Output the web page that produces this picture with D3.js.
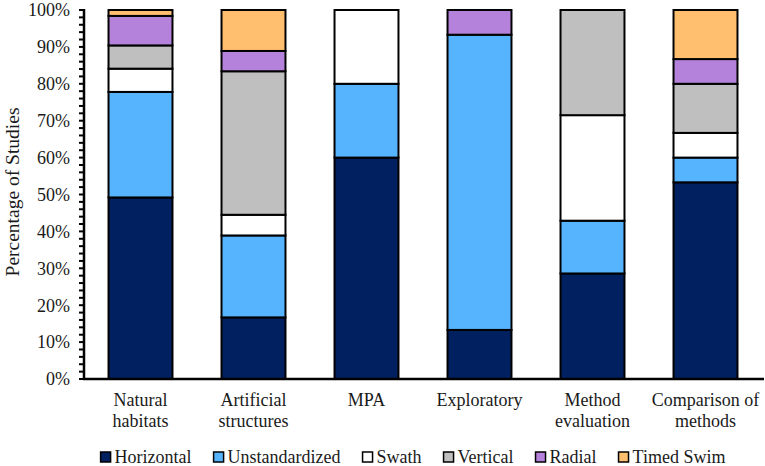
<!DOCTYPE html>
<html><head><meta charset="utf-8">
<script src="https://cdn.jsdelivr.net/npm/d3@7"></script>
<style>body{margin:0;background:#fff}</style>
</head><body><svg id="c" width="765" height="466"></svg>
<script>
const categories = [["Natural","habitats"],["Artificial","structures"],["MPA"],["Exploratory"],["Method","evaluation"],["Comparison of","methods"]];
const seriesNames = ["Horizontal","Unstandardized","Swath","Vertical","Radial","Timed Swim"];
const horizontal     = [49.2, 16.7, 60, 13.3, 28.6, 53.3];
const unstandardized = [28.6, 22.2, 20, 80.0, 14.3, 6.7];
const swath          = [6.3, 5.6, 20, 0, 28.6, 6.7];
const vertical       = [6.3, 38.9, 0, 0, 28.5, 13.3];
const radial         = [8.0, 5.5, 0, 6.7, 0, 6.7];
const timedSwim      = [1.6, 11.1, 0, 0, 0, 13.3];
const colors = ["#002060","#56B4FF","#FFFFFF","#BFBFBF","#B482DA","#FFBF6F"];
const yTicks = [0,10,20,30,40,50,60,70,80,90,100];
const FONT = "Liberation Serif";

const svg = d3.select("#c");
const x0 = 84, x1 = 762, yTop = 10, yBot = 379;
const keys = categories.map((c,i)=>i);
const x = d3.scaleBand().domain(keys).range([x0,x1]).paddingInner(0.434).paddingOuter(0.217);
const y = d3.scaleLinear().domain([0,100]).range([yBot,yTop]);

const rows = keys.map(i=>({i, s0:horizontal[i], s1:unstandardized[i], s2:swath[i], s3:vertical[i], s4:radial[i], s5:timedSwim[i]}));
const stack = d3.stack().keys(["s0","s1","s2","s3","s4","s5"])(rows);

const minor = d3.range(0,101,2);
svg.append("g").selectAll("line").data(minor).join("line")
  .attr("x1",x0-5).attr("x2",x0).attr("y1",d=>y(d)).attr("y2",d=>y(d))
  .attr("stroke","#000").attr("stroke-width",2);
svg.append("g").selectAll("text").data(yTicks).join("text")
  .attr("font-family",FONT)
  .attr("x",x0-14).attr("y",d=>y(d)).attr("dy","0.35em").attr("text-anchor","end")
  .attr("font-size",18).attr("fill","#1a1a1a").text(d=>d+"%");

stack.forEach((layer,k)=>{
  svg.append("g").selectAll("rect").data(layer.filter(d=>d[1]-d[0]>0)).join("rect")
    .attr("x",d=>x(d.data.i)).attr("width",x.bandwidth())
    .attr("y",d=>y(d[1])).attr("height",d=>y(d[0])-y(d[1]))
    .attr("fill",colors[k]).attr("stroke","#000").attr("stroke-width",2);
});

svg.append("line").attr("x1",x0).attr("x2",x0).attr("y1",yTop-1).attr("y2",yBot+1).attr("stroke","#000").attr("stroke-width",2.5);
svg.append("line").attr("x1",x0-1).attr("x2",x1+2).attr("y1",yBot).attr("y2",yBot).attr("stroke","#000").attr("stroke-width",2.5);

const cl = svg.append("g").selectAll("text").data(keys).join("text")
  .attr("font-family",FONT)
  .attr("text-anchor","middle").attr("font-size",18).attr("fill","#1a1a1a");
cl.each(function(i){
  const t = d3.select(this);
  categories[i].forEach((line,j)=>{
    t.append("tspan").attr("x",x(i)+x.bandwidth()/2).attr("y",406+j*21).text(line);
  });
});

svg.append("text").attr("font-family",FONT).attr("transform","translate(19,192) rotate(-90)").attr("text-anchor","middle")
  .attr("font-size",19.5).attr("fill","#1a1a1a").text("Percentage of Studies");

const lg = svg.append("g");
let cx = 0;
seriesNames.forEach((n,k)=>{
  const g = lg.append("g");
  g.append("rect").attr("x",0).attr("y",-5).attr("width",10).attr("height",10)
    .attr("fill",colors[k]).attr("stroke","#000").attr("stroke-width",1.5);
  const t = g.append("text").attr("font-family",FONT).attr("x",14).attr("y",0).attr("dy","0.35em").attr("font-size",18).attr("fill","#1a1a1a").text(n);
  const w = 14 + t.node().getComputedTextLength();
  g.attr("transform",`translate(${cx},457)`);
  cx += w + 22;
});
const total = cx - 22;
lg.attr("transform",`translate(${413 - total/2},0)`);
</script></body></html>
